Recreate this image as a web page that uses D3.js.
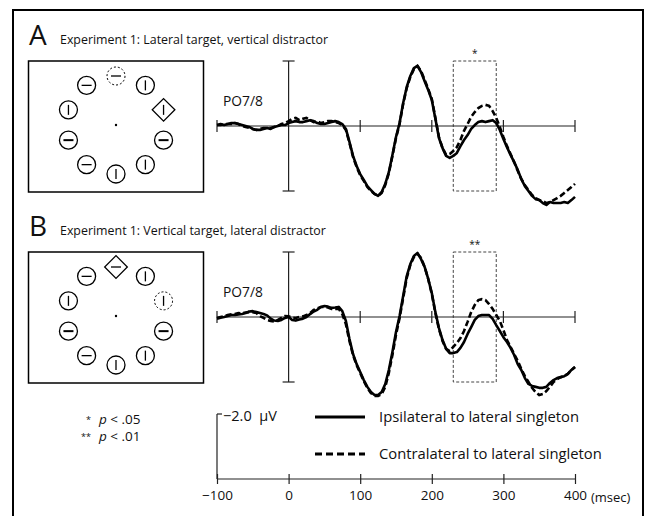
<!DOCTYPE html>
<html>
<head>
<meta charset="utf-8">
<script src="https://cdn.jsdelivr.net/npm/d3@7"></script>
<style>
  body { margin: 0; background: #fff; }
  svg { display: block; }
  text { font-family: "Open Sans", sans-serif; fill: #111; }
</style>
</head>
<body>
<svg id="chart" width="649" height="516"></svg>
<script>
// sample grid, msec
var timesMs = d3.range(-100, 401, 5);

// PO7/8 waveforms in microvolts (negative plotted up)
var ipsiA = [-0.03,-0.06,-0.03,-0.06,-0.09,-0.09,-0.06,-0.03,0,0.03,0.09,0.12,0.12,0.09,0.06,0.09,0.03,0,-0.03,-0.03,
  -0.09,-0.12,-0.15,-0.12,-0.12,-0.15,-0.18,-0.15,-0.09,-0.06,-0.06,-0.09,-0.12,-0.15,-0.12,-0.06,0.09,0.49,0.92,1.23,
  1.48,1.66,1.85,1.97,2.09,2.15,2.03,1.78,1.42,0.89,0.34,-0.09,-0.71,-1.2,-1.54,-1.78,-1.85,-1.66,-1.38,-1.11,
  -0.8,-0.22,0.37,0.68,0.92,0.98,0.92,0.83,0.62,0.43,0.28,0.09,-0.03,-0.12,-0.15,-0.12,-0.15,-0.18,-0.09,0.12,
  0.4,0.65,0.89,1.11,1.35,1.63,1.85,2.0,2.15,2.25,2.28,2.37,2.43,2.34,2.37,2.37,2.37,2.34,2.37,2.28,2.18];
var contraA = [-0.03,-0.03,-0.06,-0.06,-0.06,-0.09,-0.06,0,0.03,0.06,0.09,0.12,0.09,0.06,0.06,0.06,0.03,0,-0.06,-0.09,
  -0.15,-0.22,-0.25,-0.18,-0.22,-0.25,-0.18,-0.12,-0.15,-0.09,-0.12,-0.15,-0.15,-0.12,-0.09,-0.03,0.12,0.52,0.95,1.26,
  1.51,1.69,1.88,2.0,2.09,2.15,2.06,1.82,1.45,0.92,0.37,-0.06,-0.68,-1.17,-1.51,-1.75,-1.85,-1.69,-1.42,-1.14,
  -0.83,-0.25,0.34,0.68,0.89,0.86,0.77,0.65,0.43,0.15,-0.06,-0.28,-0.43,-0.55,-0.62,-0.65,-0.62,-0.46,-0.25,0.03,
  0.34,0.62,0.86,1.11,1.38,1.63,1.82,1.97,2.12,2.22,2.28,2.31,2.37,2.34,2.28,2.22,2.15,2.06,1.97,1.88,1.78];
var ipsiB = [0.05,0.02,0,-0.03,-0.06,-0.06,-0.08,-0.09,-0.12,-0.17,-0.18,-0.15,-0.12,-0.09,-0.05,0.05,0.11,0.12,0.09,0.03,
  0,0.09,0.11,0.08,0.05,0,-0.09,-0.17,-0.22,-0.31,-0.34,-0.32,-0.28,-0.29,-0.31,-0.18,0.12,0.68,1.14,1.45,
  1.69,1.94,2.15,2.31,2.4,2.4,2.31,2.06,1.63,1.08,0.46,-0.03,-0.65,-1.26,-1.63,-1.88,-1.97,-1.78,-1.54,-1.17,
  -0.74,-0.15,0.34,0.71,0.98,1.11,1.11,1.08,0.95,0.77,0.52,0.31,0.09,-0.03,-0.06,-0.06,-0.06,0.06,0.25,0.43,
  0.62,0.77,0.95,1.17,1.45,1.63,1.88,2.06,2.12,2.15,2.18,2.18,2.15,2.03,1.94,1.88,1.85,1.82,1.75,1.63,1.54];
var contraB = [0.03,0,-0.02,-0.06,-0.08,-0.09,-0.12,-0.11,-0.14,-0.15,-0.15,-0.12,-0.03,0.03,0.09,0.12,0.14,0.09,0.03,-0.03,
  -0.02,0.02,0.03,0,-0.02,-0.06,-0.12,-0.22,-0.26,-0.31,-0.31,-0.29,-0.25,-0.25,-0.25,-0.09,0.22,0.74,1.17,1.48,
  1.72,1.97,2.18,2.34,2.43,2.43,2.37,2.15,1.72,1.17,0.55,0.03,-0.58,-1.2,-1.6,-1.85,-1.94,-1.82,-1.54,-1.17,
  -0.71,-0.12,0.37,0.74,0.98,1.05,0.92,0.8,0.65,0.43,0.15,-0.15,-0.37,-0.52,-0.55,-0.52,-0.4,-0.25,-0.06,0.12,
  0.4,0.71,0.92,1.14,1.35,1.6,1.82,2.0,2.18,2.31,2.4,2.37,2.28,2.15,2.0,1.91,1.85,1.82,1.75,1.63,1.54];

var timeTicks = [-100, 100, 200, 300, 400];
var scaleTicks = [-100, 0, 100, 200, 300, 400];
var sigWindow = [230, 290];
var sigStars = ['*', '**'];
var panelLetters = ['A', 'B'];
var panelTitles = ['Experiment 1: Lateral target, vertical distractor',
                   'Experiment 1: Vertical target, lateral distractor'];
// search display items, clockwise from the top: kind + bar orientation
var itemsA = ['dash-h','circ-v','diam-v','circ-h','circ-v','circ-v','circ-h','circ-h','circ-v','circ-h'];
var itemsB = ['diam-h','circ-v','dash-v','circ-h','circ-v','circ-v','circ-h','circ-h','circ-v','circ-h'];
var legendLabels = ['Ipsilateral to lateral singleton', 'Contralateral to lateral singleton'];
var pKeyStars = ['*', '**'];
var pKeyValues = ['.05', '.01'];

var svg = d3.select('#chart');

svg.append('rect')
    .attr('x', 13).attr('y', 10)
    .attr('width', 630).attr('height', 530)
    .attr('fill', 'none').attr('stroke', '#000').attr('stroke-width', 2);

var x = d3.scaleLinear().domain([-100, 400]).range([217, 575]);

var panels = [
    {items: itemsA, ipsi: ipsiA, contra: contraA},
    {items: itemsB, ipsi: ipsiB, contra: contraB}
];

function drawDisplay(g, items, cx, cy) {
    items.forEach(function(d, i) {
        var ang = -Math.PI / 2 + i * Math.PI / 5;
        var px = cx + 50 * Math.cos(ang), py = cy + 49 * Math.sin(ang);
        var kind = d.split('-')[0], ori = d.split('-')[1];
        var it = g.append('g').attr('transform', 'translate(' + px + ',' + py + ')');
        if (kind === 'diam') {
            it.append('rect')
                .attr('x', -8).attr('y', -8).attr('width', 16).attr('height', 16)
                .attr('transform', 'rotate(45)')
                .attr('fill', '#fff').attr('stroke', '#000').attr('stroke-width', 1.3);
        } else {
            it.append('circle').attr('r', 9)
                .attr('fill', '#fff').attr('stroke', '#000')
                .attr('stroke-width', kind === 'dash' ? 1 : 1.3)
                .attr('stroke-dasharray', kind === 'dash' ? '2,2' : null);
        }
        var bold = (i === 3 || i === 7) ? 2 : 1.3;
        if (ori === 'v') {
            it.append('line').attr('x1', 0).attr('x2', 0).attr('y1', -5).attr('y2', 5)
                .attr('stroke', '#000').attr('stroke-width', 1.3);
        } else {
            it.append('line').attr('x1', -5).attr('x2', 5).attr('y1', 0).attr('y2', 0)
                .attr('stroke', '#000').attr('stroke-width', bold);
        }
    });
    g.append('circle').attr('cx', cx).attr('cy', cy).attr('r', 1.2).attr('fill', '#000');
}

panels.forEach(function(p, k) {
    var g = svg.append('g');
    var off = k === 0 ? 0 : 191;

    g.append('text').attr('x', 29).attr('y', 45 + off)
        .style('font-size', '28px').text(panelLetters[k]);
    g.append('text').attr('x', 60).attr('y', 44 + off)
        .style('font-size', '12.4px').text(panelTitles[k]);

    // stimulus display
    g.append('rect')
        .attr('x', 28.5).attr('y', 61 + off)
        .attr('width', 175).attr('height', 131)
        .attr('fill', 'none').attr('stroke', '#000').attr('stroke-width', 1.5);
    drawDisplay(g, p.items, 116, 125 + off);

    var y = d3.scaleLinear().domain([-2, 2]).range([61 + off, 191 + off]);
    var axisColor = '#222';

    // sig window box
    g.append('rect')
        .attr('x', x(sigWindow[0])).attr('y', y(-2))
        .attr('width', x(sigWindow[1]) - x(sigWindow[0]))
        .attr('height', y(2) - y(-2))
        .attr('fill', 'none').attr('stroke', '#444')
        .attr('stroke-width', 1).attr('stroke-dasharray', '3,2');
    g.append('text')
        .attr('x', x((sigWindow[0] + sigWindow[1]) / 2)).attr('y', y(-2) - 4)
        .attr('text-anchor', 'middle').style('font-size', '10px')
        .text(sigStars[k]);

    // time axis
    g.append('line')
        .attr('x1', x(-100)).attr('x2', x(400)).attr('y1', y(0)).attr('y2', y(0))
        .attr('stroke', axisColor).attr('stroke-width', 1.2);
    g.selectAll('.tk').data(timeTicks).enter().append('line')
        .attr('x1', function(d) { return x(d); }).attr('x2', function(d) { return x(d); })
        .attr('y1', y(0) - 6).attr('y2', y(0) + 6)
        .attr('stroke', axisColor).attr('stroke-width', 1.2);
    // voltage axis at stimulus onset
    g.append('line')
        .attr('x1', x(0)).attr('x2', x(0)).attr('y1', y(-2)).attr('y2', y(2))
        .attr('stroke', axisColor).attr('stroke-width', 1.2);
    g.selectAll('.cap').data([-2, 2]).enter().append('line')
        .attr('x1', x(0) - 6).attr('x2', x(0) + 6)
        .attr('y1', function(d) { return y(d); }).attr('y2', function(d) { return y(d); })
        .attr('stroke', axisColor).attr('stroke-width', 1.2);

    g.append('text').attr('x', 223).attr('y', y(0) - 20)
        .style('font-size', '13.8px').text('PO7/8');

    var line = d3.line()
        .x(function(d, i) { return x(timesMs[i]); })
        .y(function(d) { return y(d); });

    g.append('path').datum(p.contra).attr('d', line)
        .attr('fill', 'none').attr('stroke', '#000').attr('stroke-width', 2.6)
        .attr('stroke-dasharray', '6,3');
    g.append('path').datum(p.ipsi).attr('d', line)
        .attr('fill', 'none').attr('stroke', '#000').attr('stroke-width', 2.6)
        .attr('stroke-linejoin', 'round');
});

// p-value key
var key = svg.append('g');
pKeyStars.forEach(function(s, i) {
    var ky = 424 + i * 17;
    key.append('text').attr('x', 91).attr('y', ky - 1)
        .attr('text-anchor', 'end').style('font-size', '9px').text(s);
    key.append('text').attr('x', 99).attr('y', ky).style('font-size', '13.5px')
        .html('<tspan font-style="italic">p</tspan> &lt; ' + pKeyValues[i]);
});

// scale bar
var yBar = d3.scaleLinear().domain([0, -2]).range([479, 414]);
var bar = svg.append('g');
bar.append('line').attr('x1', x(-100)).attr('x2', x(-100))
    .attr('y1', yBar(0)).attr('y2', yBar(-2)).attr('stroke', '#222').attr('stroke-width', 1.2);
bar.append('line').attr('x1', x(-100)).attr('x2', x(-100) + 5)
    .attr('y1', yBar(-2)).attr('y2', yBar(-2)).attr('stroke', '#222').attr('stroke-width', 1.2);
bar.append('text').attr('x', 223).attr('y', yBar(-2) + 7)
    .style('font-size', '14.5px').text('\u22122.0\u00a0\u00a0\u03bcV');

var xAxis = d3.axisBottom(x).tickValues(scaleTicks).tickSize(5)
    .tickFormat(function(d) { return d < 0 ? '\u2212' + Math.abs(d) : d; });
var ax = bar.append('g').attr('transform', 'translate(0,' + yBar(0) + ')').call(xAxis);
ax.select('.domain').attr('d', 'M' + x(-100) + ',0H' + x(400)).attr('stroke', '#222').attr('stroke-width', 1.2);
ax.selectAll('.tick line').attr('y1', -5).attr('stroke', '#222').attr('stroke-width', 1.2);
ax.selectAll('.tick text').attr('y', 11).style('font-size', '13.5px')
    .style('font-family', '"Open Sans", sans-serif').attr('fill', '#111');
bar.append('text').attr('x', 591).attr('y', 502).style('font-size', '13px').text('(msec)');

// legend
var leg = svg.append('g');
legendLabels.forEach(function(lbl, i) {
    var ly = 417 + i * 37;
    leg.append('line').attr('x1', 315).attr('x2', 365).attr('y1', ly).attr('y2', ly)
        .attr('stroke', '#000').attr('stroke-width', 3)
        .attr('stroke-dasharray', i === 1 ? '7,4' : null);
    leg.append('text').attr('x', 379).attr('y', ly + 5)
        .style('font-size', '14.8px').text(lbl);
});
</script>
</body>
</html>
